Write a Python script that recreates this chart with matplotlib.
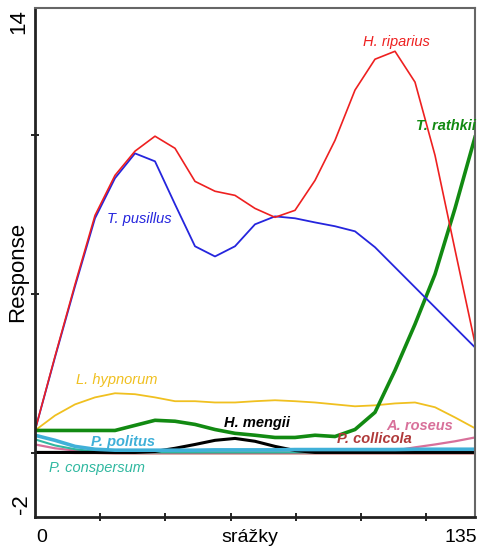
import numpy as np
import matplotlib
matplotlib.use("Agg")
import matplotlib.pyplot as plt

plt.rcParams['font.family'] = ['Liberation Sans', 'DejaVu Sans']

# response curves sampled on an even grid over the precipitation gradient
srazky = np.linspace(0, 135, 23)

h_riparius = [0.72, 3.05, 5.31, 7.48, 8.74, 9.50, 9.97, 9.59, 8.55, 8.24, 8.11, 7.70,
              7.42, 7.64, 8.58, 9.84, 11.42, 12.39, 12.64, 11.67, 9.37, 6.40, 3.46]
t_pusillus = [0.72, 3.02, 5.25, 7.39, 8.65, 9.43, 9.18, 7.83, 6.51, 6.19, 6.51, 7.20,
              7.45, 7.39, 7.26, 7.14, 6.98, 6.48, 5.85, 5.22, 4.59, 3.96, 3.33]
t_rathkii = [0.72, 0.72, 0.72, 0.72, 0.72, 0.88, 1.04, 1.01, 0.91, 0.75, 0.63, 0.57,
             0.50, 0.50, 0.57, 0.53, 0.75, 1.29, 2.61, 4.06, 5.63, 7.70, 9.94]
l_hypnorum = [0.72, 1.19, 1.54, 1.76, 1.89, 1.86, 1.76, 1.64, 1.64, 1.60, 1.60, 1.64,
              1.67, 1.64, 1.60, 1.54, 1.48, 1.51, 1.57, 1.60, 1.45, 1.13, 0.79]
h_mengii = [0.03, 0.03, 0.03, 0.03, 0.03, 0.03, 0.06, 0.16, 0.28, 0.41, 0.47, 0.38,
            0.22, 0.09, 0.03, 0.03, 0.03, 0.03, 0.03, 0.03, 0.03, 0.03, 0.03]
p_politus = [0.57, 0.41, 0.22, 0.13, 0.10, 0.10, 0.10, 0.10, 0.10, 0.11, 0.11, 0.11,
             0.11, 0.12, 0.12, 0.12, 0.12, 0.12, 0.12, 0.13, 0.13, 0.13, 0.13]
p_conspersum = [0.44, 0.25, 0.13, 0.06, 0.03, 0.03, 0.03, 0.03, 0.03, 0.03, 0.03, 0.03,
                0.03, 0.03, 0.03, 0.03, 0.03, 0.03, 0.03, 0.03, 0.03, 0.03, 0.03]
a_roseus = [0.28, 0.16, 0.09, 0.06, 0.03, 0.03, 0.03, 0.03, 0.03, 0.03, 0.03, 0.03,
            0.03, 0.03, 0.03, 0.03, 0.03, 0.06, 0.09, 0.19, 0.28, 0.38, 0.50]
p_collicola = [0.02, 0.02, 0.01, 0.01, 0.0, 0.0, 0.0, 0.0, 0.0, 0.0, 0.0, 0.0,
               0.0, 0.0, 0.0, 0.0, 0.0, 0.0, 0.0, 0.0, 0.0, 0.0, 0.0]

# name, values, line colour, line width, label position (x, y), label weight
species = [
    ("P. collicola", p_collicola, "#b03a3a", 1.5, (104, 0.45), "semibold"),
    ("A. roseus", a_roseus, "#d8709a", 1.6, (118, 0.85), "semibold"),
    ("P. conspersum", p_conspersum, "#30b8a0", 1.5, (19, -0.45), "normal"),
    ("H. mengii", h_mengii, "black", 2.2, (68, 0.97), "bold"),
    ("P. politus", p_politus, "#40b0d8", 2.6, (27, 0.37), "semibold"),
    ("L. hypnorum", l_hypnorum, "#f0c020", 1.3, (25, 2.30), "normal"),
    ("T. rathkii", t_rathkii, "#128a12", 2.6, (126, 10.30), "bold"),
    ("T. pusillus", t_pusillus, "#2525dd", 1.3, (32, 7.37), "normal"),
    ("H. riparius", h_riparius, "#ee2020", 1.2, (111, 12.92), "normal"),
]

fig = plt.figure(figsize=(4.78, 5.47), dpi=100)
ax = fig.add_axes([35 / 478, 30 / 547, 440 / 478, 509 / 547])

for name, vals, col, lw, (lx, ly), wt in species:
    ax.plot(srazky, vals, color=col, lw=lw, solid_joinstyle="round")
    ax.text(lx, ly, name, color=col, fontsize=10.5, style="italic",
            fontweight=wt, ha="center", va="center")

ax.set_xlim(0, 135)
ax.set_ylim(-2, 14)
ax.set_xticks([20, 40, 60, 80, 100, 120])
ax.set_yticks([0, 5, 10])
ax.tick_params(direction="inout", length=6, width=1.2, labelbottom=False, labelleft=False)

for side in ["left", "bottom"]:
    ax.spines[side].set_linewidth(2)
    ax.spines[side].set_color("#222222")
for side in ["top", "right"]:
    ax.spines[side].set_linewidth(1.5)
    ax.spines[side].set_color("#666666")

# axis end labels, placed the way the ordination package draws them
ax.annotate("0", (0, 0), xycoords=("data", "axes fraction"), xytext=(1, -25),
            textcoords="offset pixels", ha="left", va="baseline", fontsize=14)
ax.annotate("135", (135, 0), xycoords=("data", "axes fraction"), xytext=(2, -25),
            textcoords="offset pixels", ha="right", va="baseline", fontsize=14)
ax.annotate("srážky", (66, 0), xycoords=("data", "axes fraction"), xytext=(0, -25),
            textcoords="offset pixels", ha="center", va="baseline", fontsize=14)

fig.text(19 / 478, 1 - 22 / 547, "14", rotation=90, ha="center", va="center", fontsize=16)
fig.text(21 / 478, 1 - 504 / 547, "-2", rotation=90, ha="center", va="center", fontsize=16)
fig.text(18 / 478, 1 - 272 / 547, "Response", rotation=90, ha="center", va="center", fontsize=16)

fig.savefig("out.png", dpi=100)
